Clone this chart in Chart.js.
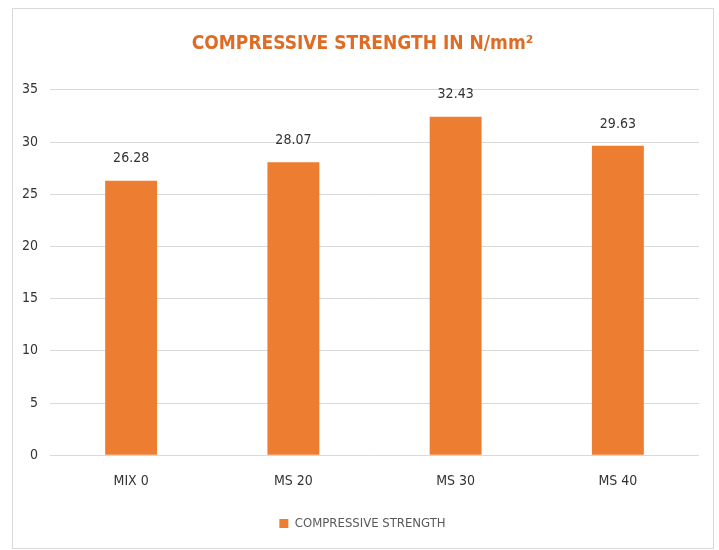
<!DOCTYPE html>
<html>
<head>
<meta charset="utf-8">
<script src="https://cdn.jsdelivr.net/npm/chart.js@4/dist/chart.umd.min.js"></script>
<style>
  html, body { margin: 0; padding: 0; background: #ffffff; }
  #wrap { width: 719px; height: 550px; }
</style>
</head>
<body>
<div id="wrap"><canvas id="chart" width="719" height="550"></canvas></div>
<script>
const categories = ['MIX 0', 'MS 20', 'MS 30', 'MS 40'];
const strength = [26.28, 28.07, 32.43, 29.63];
const seriesName = 'COMPRESSIVE STRENGTH';
const chartTitle = 'COMPRESSIVE STRENGTH IN N/mm\u00B2';

const FONT = "'DejaVu Sans Condensed', 'Liberation Sans', Arial, sans-serif";

// Frame around the whole chart
const framePlugin = {
  id: 'frame',
  beforeDraw(chart) {
    const ctx = chart.ctx;
    ctx.save();
    ctx.fillStyle = '#ffffff';
    ctx.fillRect(0, 0, chart.width, chart.height);
    ctx.strokeStyle = '#d9d9d9';
    ctx.lineWidth = 1;
    ctx.strokeRect(12.5, 8.5, 701, 540);
    ctx.restore();
  }
};

// Centre the title and legend on the framed box rather than the padded area
const centreBlocks = {
  id: 'centreBlocks',
  afterLayout(chart) {
    const shift = 8;
    [chart.titleBlock, chart.legend].forEach(b => {
      if (b) { b.left += shift; b.right += shift; }
    });
  }
};

// Value labels above each bar
const valueLabels = {
  id: 'valueLabels',
  afterDatasetsDraw(chart) {
    const ctx = chart.ctx;
    ctx.save();
    ctx.font = "14px " + FONT;
    ctx.fillStyle = '#333333';
    ctx.textAlign = 'center';
    ctx.textBaseline = 'bottom';
    chart.data.datasets.forEach((ds, i) => {
      chart.getDatasetMeta(i).data.forEach((bar, j) => {
        ctx.fillText(ds.data[j].toFixed(2), bar.x, bar.y - 15);
      });
    });
    ctx.restore();
  }
};

new Chart(document.getElementById('chart'), {
  type: 'bar',
  data: {
    labels: categories,
    datasets: [{
      label: seriesName,
      data: strength,
      backgroundColor: '#ED7D31',
      borderWidth: 0,
      categoryPercentage: 1.0,
      barPercentage: 0.32
    }]
  },
  options: {
    responsive: false,
    animation: false,
    layout: { padding: { left: 10, right: 20, top: 20, bottom: 10 } },
    plugins: {
      title: {
        display: true,
        text: chartTitle,
        color: '#DE6C24',
        font: { family: FONT, size: 19, weight: 'bold' },
        padding: { top: 13, bottom: 34 }
      },
      legend: {
        position: 'bottom',
        labels: {
          boxWidth: 9,
          boxHeight: 9,
          color: '#595959',
          font: { family: FONT, size: 13 },
          padding: 12
        }
      },
      tooltip: { enabled: false }
    },
    scales: {
      x: {
        grid: { display: false },
        border: { display: false },
        ticks: { color: '#333333', font: { family: FONT, size: 14 }, padding: 10 },
        afterFit(scale) { scale.height += 5; }
      },
      y: {
        min: 0,
        max: 35,
        ticks: { stepSize: 5, color: '#333333', font: { family: FONT, size: 14 }, padding: 12 },
        grid: { color: '#d9d9d9', lineWidth: 1, drawTicks: false },
        border: { display: false }
      }
    }
  },
  plugins: [framePlugin, centreBlocks, valueLabels]
});
</script>
</body>
</html>
